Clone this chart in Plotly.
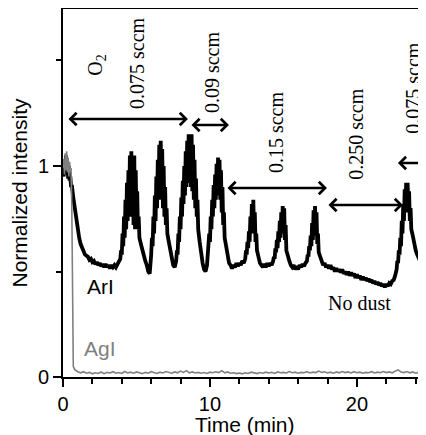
import plotly.graph_objects as go

# ArI emission (black), (time min, normalized intensity)
ari_points = [
    (0.00, 1.00), (0.05, 0.95), (0.10, 1.03), (0.15, 0.97), (0.20, 1.05), (0.25, 0.96), (0.30, 1.02),
    (0.35, 0.94), (0.40, 1.00), (0.45, 0.93), (0.50, 0.95), (0.55, 0.90), (0.60, 0.91), (0.70, 0.85),
    (0.80, 0.80), (0.90, 0.74), (1.00, 0.70), (1.10, 0.66), (1.20, 0.63), (1.30, 0.61), (1.40, 0.60),
    (1.50, 0.58), (1.60, 0.575), (1.70, 0.57), (1.80, 0.555), (1.90, 0.56), (2.00, 0.545), (2.10, 0.55),
    (2.20, 0.535), (2.30, 0.545), (2.40, 0.53), (2.50, 0.54), (2.60, 0.525), (2.70, 0.535), (2.80, 0.52),
    (2.90, 0.535), (3.00, 0.52), (3.10, 0.53), (3.20, 0.515), (3.30, 0.53), (3.40, 0.52), (3.50, 0.53),
    (3.60, 0.52), (3.70, 0.535), (3.80, 0.54), (3.90, 0.56),
    # peak 1
    (3.95, 0.60), (4.00, 0.58), (4.05, 0.68), (4.10, 0.62), (4.15, 0.76), (4.20, 0.66), (4.25, 0.84),
    (4.30, 0.70), (4.35, 0.92), (4.40, 0.74), (4.45, 0.98), (4.50, 0.76), (4.55, 1.05), (4.60, 0.78),
    (4.65, 1.07), (4.70, 0.76), (4.75, 1.04), (4.80, 0.72), (4.85, 1.05), (4.90, 0.70), (4.95, 0.98),
    (5.00, 0.72), (5.05, 0.88), (5.10, 0.70), (5.15, 0.76), (5.20, 0.66), (5.30, 0.63), (5.40, 0.60),
    (5.50, 0.58), (5.60, 0.55), (5.70, 0.53), (5.80, 0.50), (5.90, 0.49), (5.95, 0.52),
    # peak 2
    (6.00, 0.58), (6.05, 0.66), (6.10, 0.62), (6.15, 0.76), (6.20, 0.68), (6.25, 0.86), (6.30, 0.74),
    (6.35, 0.95), (6.40, 0.80), (6.45, 1.03), (6.50, 0.84), (6.55, 1.10), (6.60, 0.86), (6.65, 1.12),
    (6.70, 0.84), (6.75, 1.08), (6.80, 0.80), (6.85, 1.00), (6.90, 0.76), (6.95, 0.90), (7.00, 0.72),
    (7.05, 0.80), (7.10, 0.68), (7.20, 0.64), (7.30, 0.60), (7.40, 0.56), (7.50, 0.53), (7.60, 0.52),
    (7.70, 0.55),
    # peak 3
    (7.75, 0.60), (7.80, 0.58), (7.85, 0.68), (7.90, 0.64), (7.95, 0.76), (8.00, 0.70), (8.05, 0.85),
    (8.10, 0.76), (8.15, 0.93), (8.20, 0.82), (8.25, 1.00), (8.30, 0.86), (8.35, 1.07), (8.40, 0.90),
    (8.45, 1.12), (8.50, 0.92), (8.55, 1.15), (8.60, 0.92), (8.65, 1.13), (8.70, 0.90), (8.75, 1.15),
    (8.80, 0.88), (8.85, 1.10), (8.90, 0.84), (8.95, 1.03), (9.00, 0.80), (9.05, 0.94), (9.10, 0.76),
    (9.15, 0.84), (9.20, 0.70), (9.30, 0.64), (9.40, 0.58), (9.50, 0.54), (9.60, 0.51), (9.70, 0.50),
    (9.80, 0.53),
    # peak 4
    (9.85, 0.60), (9.90, 0.58), (9.95, 0.68), (10.00, 0.64), (10.05, 0.76), (10.10, 0.70), (10.15, 0.84),
    (10.20, 0.76), (10.25, 0.91), (10.30, 0.80), (10.35, 0.96), (10.40, 0.84), (10.45, 1.01), (10.50, 0.86),
    (10.55, 1.04), (10.60, 0.86), (10.65, 1.03), (10.70, 0.84), (10.75, 0.98), (10.80, 0.78), (10.85, 0.90),
    (10.90, 0.72), (10.95, 0.78), (11.00, 0.66), (11.10, 0.61), (11.20, 0.57), (11.30, 0.54), (11.40, 0.53),
    (11.50, 0.515), (11.60, 0.53), (11.70, 0.52), (11.80, 0.54), (11.90, 0.525), (12.00, 0.54), (12.10, 0.53),
    (12.20, 0.55), (12.30, 0.54), (12.40, 0.56),
    # peak 5
    (12.45, 0.60), (12.50, 0.58), (12.55, 0.64), (12.60, 0.61), (12.65, 0.69), (12.70, 0.64), (12.75, 0.76),
    (12.80, 0.68), (12.85, 0.82), (12.90, 0.70), (12.95, 0.84), (13.00, 0.68), (13.05, 0.78), (13.10, 0.64),
    (13.15, 0.68), (13.20, 0.60), (13.30, 0.57), (13.40, 0.54), (13.50, 0.53), (13.60, 0.52), (13.70, 0.535),
    (13.80, 0.52), (13.90, 0.54), (14.00, 0.525), (14.10, 0.54), (14.20, 0.53), (14.30, 0.55),
    # peak 6
    (14.35, 0.57), (14.40, 0.56), (14.45, 0.61), (14.50, 0.59), (14.55, 0.65), (14.60, 0.61), (14.65, 0.69),
    (14.70, 0.64), (14.75, 0.74), (14.80, 0.66), (14.85, 0.78), (14.90, 0.68), (14.95, 0.81), (15.00, 0.68),
    (15.05, 0.80), (15.10, 0.65), (15.15, 0.72), (15.20, 0.60), (15.30, 0.57), (15.40, 0.55), (15.50, 0.53),
    (15.60, 0.52), (15.70, 0.53), (15.80, 0.51), (15.90, 0.525), (16.00, 0.51), (16.10, 0.53), (16.20, 0.52),
    (16.30, 0.535), (16.40, 0.525), (16.50, 0.54), (16.60, 0.55),
    # peak 7
    (16.65, 0.58), (16.70, 0.57), (16.75, 0.62), (16.80, 0.60), (16.85, 0.67), (16.90, 0.62), (16.95, 0.73),
    (17.00, 0.65), (17.05, 0.79), (17.10, 0.68), (17.15, 0.81), (17.20, 0.67), (17.25, 0.78), (17.30, 0.63),
    (17.35, 0.68), (17.40, 0.59), (17.50, 0.57), (17.60, 0.55), (17.70, 0.53), (17.80, 0.54), (17.90, 0.52),
    (18.00, 0.53),
    # no dust baseline
    (18.10, 0.515), (18.20, 0.53), (18.30, 0.51), (18.40, 0.52), (18.50, 0.50), (18.60, 0.515), (18.70, 0.50),
    (18.80, 0.51), (18.90, 0.495), (19.00, 0.51), (19.10, 0.49), (19.20, 0.50), (19.30, 0.485), (19.40, 0.50),
    (19.50, 0.48), (19.60, 0.495), (19.70, 0.48), (19.80, 0.49), (19.90, 0.47), (20.00, 0.485), (20.10, 0.47),
    (20.20, 0.48), (20.30, 0.46), (20.40, 0.475), (20.50, 0.46), (20.60, 0.47), (20.70, 0.455), (20.80, 0.465),
    (20.90, 0.45), (21.00, 0.46), (21.10, 0.445), (21.20, 0.455), (21.30, 0.44), (21.40, 0.45), (21.50, 0.435),
    (21.60, 0.445), (21.70, 0.43), (21.80, 0.44), (21.90, 0.425), (22.00, 0.44), (22.10, 0.43), (22.20, 0.445),
    (22.30, 0.44), (22.40, 0.455), (22.50, 0.46), (22.60, 0.48), (22.70, 0.51),
    # peak 8
    (22.75, 0.55), (22.80, 0.54), (22.85, 0.60), (22.90, 0.58), (22.95, 0.66), (23.00, 0.62), (23.05, 0.74),
    (23.10, 0.68), (23.15, 0.82), (23.20, 0.74), (23.25, 0.89), (23.30, 0.78), (23.35, 0.92), (23.40, 0.80),
    (23.45, 0.92), (23.50, 0.78), (23.55, 0.88), (23.60, 0.74), (23.65, 0.80), (23.70, 0.70), (23.80, 0.67),
    (23.90, 0.63), (24.00, 0.60), (24.10, 0.58), (24.20, 0.56), (24.30, 0.55), (24.40, 0.54), (24.50, 0.53),
    (24.60, 0.55), (24.70, 0.58), (24.80, 0.60),
]

# AgI emission (grey)
agi_points = [
    (0.00, 0.99), (0.05, 1.03), (0.10, 0.96), (0.15, 1.06), (0.20, 0.98), (0.25, 1.07), (0.30, 0.97),
    (0.35, 1.04), (0.40, 0.95), (0.45, 1.02), (0.50, 0.97), (0.55, 0.99), (0.60, 0.80), (0.63, 0.40),
    (0.66, 0.12), (0.70, 0.05), (0.80, 0.035), (0.90, 0.03), (1.00, 0.025),
    (1.2, 0.02), (1.4, 0.025), (1.6, 0.018), (1.8, 0.022), (2.0, 0.015), (2.2, 0.02), (2.4, 0.017),
    (2.6, 0.024), (2.8, 0.016), (3.0, 0.022), (3.2, 0.019), (3.4, 0.025), (3.6, 0.018), (3.8, 0.021),
    (4.0, 0.017), (4.2, 0.026), (4.4, 0.019), (4.6, 0.023), (4.8, 0.018), (5.0, 0.024), (5.2, 0.02),
    (5.4, 0.016), (5.6, 0.022), (5.8, 0.018), (6.0, 0.025), (6.2, 0.02), (6.4, 0.017), (6.6, 0.023),
    (6.8, 0.019), (7.0, 0.026), (7.2, 0.021), (7.4, 0.018), (7.6, 0.024), (7.8, 0.02), (8.0, 0.028),
    (8.2, 0.022), (8.4, 0.03), (8.6, 0.02), (8.8, 0.024), (9.0, 0.019), (9.2, 0.022), (9.4, 0.018),
    (9.6, 0.021), (9.8, 0.017), (10.0, 0.023), (10.2, 0.02), (10.4, 0.025), (10.6, 0.021), (10.8, 0.03),
    (11.0, 0.02), (11.2, 0.024), (11.4, 0.018), (11.6, 0.02), (11.8, 0.016), (12.0, 0.019), (12.2, 0.015),
    (12.4, 0.02), (12.6, 0.017), (12.8, 0.023), (13.0, 0.019), (13.2, 0.016), (13.4, 0.021), (13.6, 0.018),
    (13.8, 0.023), (14.0, 0.019), (14.2, 0.022), (14.4, 0.017), (14.6, 0.024), (14.8, 0.02), (15.0, 0.022),
    (15.2, 0.019), (15.4, 0.026), (15.6, 0.02), (15.8, 0.023), (16.0, 0.018), (16.2, 0.022), (16.4, 0.02),
    (16.6, 0.025), (16.8, 0.019), (17.0, 0.023), (17.2, 0.021), (17.4, 0.028), (17.6, 0.022), (17.8, 0.025),
    (18.0, 0.019), (18.2, 0.023), (18.4, 0.018), (18.6, 0.024), (18.8, 0.02), (19.0, 0.026), (19.2, 0.021),
    (19.4, 0.024), (19.6, 0.019), (19.8, 0.025), (20.0, 0.02), (20.2, 0.023), (20.4, 0.018), (20.6, 0.022),
    (20.8, 0.02), (21.0, 0.025), (21.2, 0.019), (21.4, 0.023), (21.6, 0.02), (21.8, 0.026), (22.0, 0.021),
    (22.2, 0.024), (22.4, 0.02), (22.6, 0.027), (22.8, 0.034), (23.0, 0.024), (23.2, 0.021), (23.4, 0.026),
    (23.6, 0.02), (23.8, 0.024), (24.0, 0.018), (24.2, 0.022), (24.4, 0.019), (24.6, 0.024), (24.8, 0.02),
]

# O2 flow periods: (start, end, arrow height)
flow_arrows = [
    (0.27, 8.50, 1.223),
    (8.64, 11.29, 1.194),
    (11.09, 17.96, 0.896),
    (17.96, 23.13, 0.815),
]
last_arrow = (22.79, 25.3, 1.014)  # runs off the right edge

# rotated labels: (text, x, y)
flow_labels = [
    ("O<sub>2</sub>", 2.31, 1.48),
    ("0.075 sccm", 5.03, 1.488),
    ("0.09 sccm", 10.14, 1.445),
    ("0.15 sccm", 14.5, 1.161),
    ("0.250 sccm", 19.93, 1.152),
    ("0.075 sccm", 23.8, 1.37),
]

SANS = "Arial, Liberation Sans, sans-serif"
SERIF = "Times New Roman, Liberation Serif, serif"

fig = go.Figure()
fig.add_trace(go.Scatter(
    x=[p[0] for p in ari_points], y=[p[1] for p in ari_points],
    mode="lines", line=dict(color="black", width=3.8), showlegend=False, hoverinfo="skip",
))
fig.add_trace(go.Scatter(
    x=[p[0] for p in agi_points], y=[p[1] for p in agi_points],
    mode="lines", line=dict(color="#808080", width=1.6), showlegend=False, hoverinfo="skip",
))

for x0, x1, yy in flow_arrows:
    fig.add_annotation(x=x1, y=yy, ax=x0, ay=yy, xref="x", yref="y", axref="x", ayref="y",
                       text="", showarrow=True, arrowhead=4, startarrowhead=4, arrowside="end+start",
                       arrowsize=1, startarrowsize=1, arrowwidth=2.4, arrowcolor="black")
fig.add_annotation(x=last_arrow[0], y=last_arrow[2], ax=last_arrow[1], ay=last_arrow[2],
                   xref="x", yref="y", axref="x", ayref="y", text="", showarrow=True,
                   arrowhead=4, arrowsize=1, arrowwidth=2.4, arrowcolor="black")

for txt, xx, yy in flow_labels:
    fig.add_annotation(x=xx, y=yy, text=txt, textangle=-90, showarrow=False,
                       font=dict(family=SERIF, size=20, color="black"))

fig.add_annotation(x=20.2, y=0.35, text="No dust", showarrow=False,
                   font=dict(family=SERIF, size=20, color="black"))
fig.add_annotation(x=2.52, y=0.427, text="ArI", showarrow=False,
                   font=dict(family=SANS, size=21, color="black"))
fig.add_annotation(x=2.52, y=0.137, text="AgI", showarrow=False,
                   font=dict(family=SANS, size=21, color="#808080"))

# x-axis title placed under the tick labels
fig.add_annotation(x=0.5, y=0, xref="paper", yref="paper", yanchor="top", yshift=-34,
                   text="Time (min)", showarrow=False,
                   font=dict(family=SANS, size=21, color="black"))

# the page keeps its default 8px body margin; figure is 8px smaller so the
# plot area sits where it does in the original
fig.update_layout(
    width=418, height=427,
    margin=dict(l=55, r=0, t=1, b=58, autoexpand=False),
    paper_bgcolor="white", plot_bgcolor="white",
    font=dict(family=SANS, size=20, color="black"),
    xaxis=dict(
        range=[0, 24.7], showgrid=False, zeroline=False, automargin=False,
        showline=True, linecolor="black", linewidth=2, mirror="ticks",
        ticks="outside", ticklen=8, tickwidth=2, tickcolor="black",
        tickvals=[0, 10, 20],
        minor=dict(dtick=2, tick0=0, ticks="outside", ticklen=5, tickwidth=2, tickcolor="black"),
    ),
    yaxis=dict(
        range=[0, 1.744], showgrid=False, zeroline=False, automargin=False,
        showline=True, linecolor="black", linewidth=2,
        ticks="outside", ticklen=8, tickwidth=2, tickcolor="black",
        tickvals=[0, 1],
        minor=dict(dtick=0.5, tick0=0, ticks="outside", ticklen=5, tickwidth=2, tickcolor="black"),
        title=dict(text="Normalized intensity", font=dict(size=21)),
    ),
)

fig.write_html(
    "out.html",
    config={"displayModeBar": False},
    post_script="document.documentElement.style.overflow='hidden';",
)
